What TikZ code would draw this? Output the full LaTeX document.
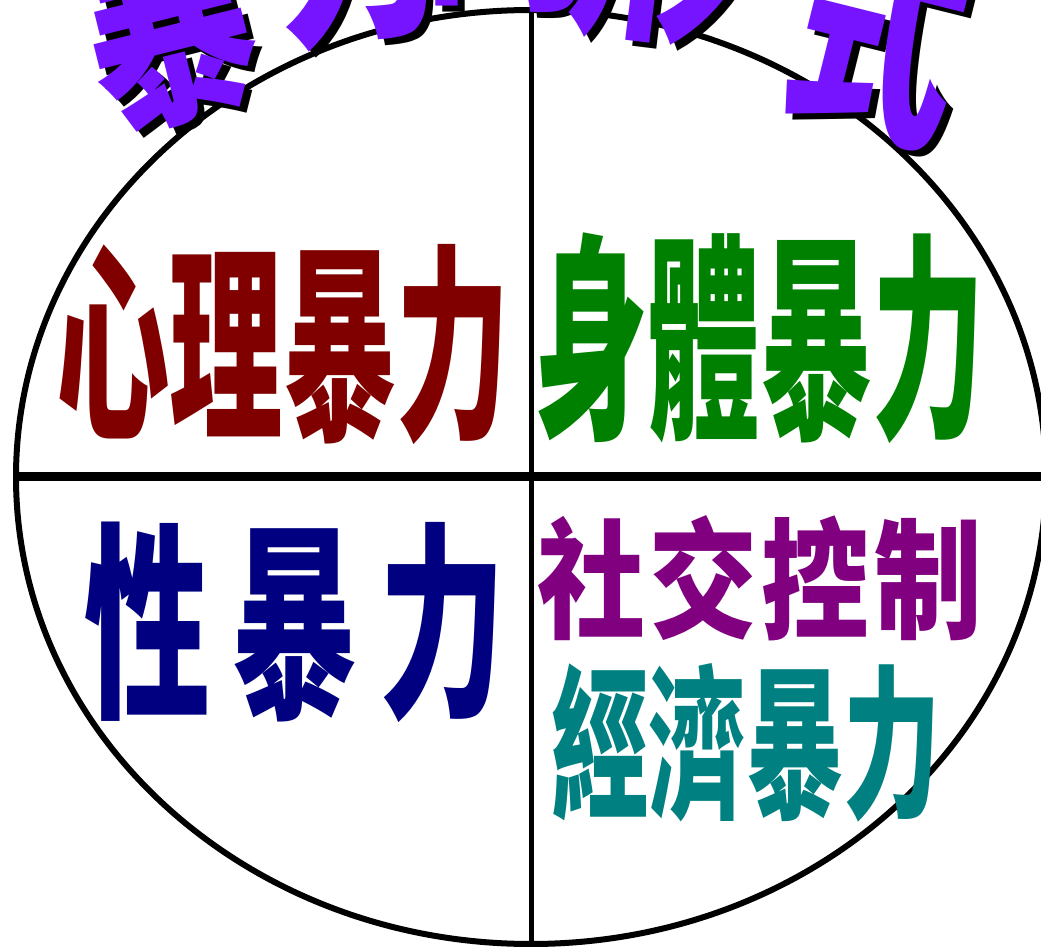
\documentclass[tikz,border=0pt]{standalone}
\usepackage{fontspec}
\usetikzlibrary{shapes.geometric}
\newfontfamily\cjk{Noto Sans CJK TC}
\definecolor{cmaroon}{RGB}{128,0,0}
\definecolor{cgreen}{RGB}{0,128,0}
\definecolor{cnavy}{RGB}{0,0,128}
\definecolor{cpurple}{RGB}{128,0,128}
\definecolor{cteal}{RGB}{0,128,128}
\definecolor{ctitle}{RGB}{118,20,255}
\tikzset{
  lab/.style={inner sep=0pt, outer sep=0pt, anchor=center},
  tchar/.style={inner sep=0pt, outer sep=0pt, anchor=center, text=ctitle},
  tshadow/.style={inner sep=0pt, outer sep=0pt, anchor=center, text=black},
  rim/.style={draw=black, line width=3pt, ellipse, inner sep=0pt, outer sep=0pt,
    minimum width=515pt, minimum height=467pt},
}
\newcommand\ttlchar[5]{%
  \node[tshadow, rotate=#3] (#5s) at ({#1+7},{#2+6}) {\scalebox{0.9}[1.2]{\cjk\bfseries\fontsize{95}{95}\selectfont #4}};
  \node[tchar, rotate=#3] (#5) at (#1,#2) {\scalebox{0.9}[1.2]{\cjk\bfseries\fontsize{95}{95}\selectfont #4}};
}
\begin{document}
\begin{tikzpicture}[x=0.5pt, y=-0.5pt]
\useasboundingbox (0,0) rectangle (1041,947);
\clip (0,0) rectangle (1041,947);
\fill[white] (0,0) rectangle (1041,947);
% ellipse and dividing lines
\node[rim] (e) at (531,477) {};
\draw[line width=2.5pt] (e.north) -- (e.south);
\draw[line width=4.5pt] (e.west) -- (e.east);
% title (cut off at top)
\ttlchar{166}{22}{14}{暴}{t1}
\ttlchar{355}{-63}{7}{力}{t2}
\ttlchar{510}{-95}{0}{的}{t3}
\ttlchar{663}{-62}{-7}{形}{t4}
\ttlchar{880}{32}{-14}{式}{t5}
% quadrant labels
\node[lab, text=cmaroon] (psy) at (283,345)
  {\scalebox{0.54}[1]{\cjk\bfseries\fontsize{105}{105}\selectfont 心理暴力}};
\node[lab, text=cgreen] (phy) at (760,338)
  {\scalebox{0.51}[1]{\cjk\bfseries\fontsize{110}{110}\selectfont 身體暴力}};
\node[lab, text=cnavy] (sex) at (295,622)
  {\scalebox{0.6}[1]{\cjk\bfseries\fontsize{105}{105}\selectfont 性\hspace{18pt}暴\hspace{18pt}力}};
\node[lab, text=cpurple] (soc) at (760,578)
  {\scalebox{0.83}[1]{\cjk\bfseries\fontsize{65}{65}\selectfont 社\hspace{2.5pt}交\hspace{2.5pt}控\hspace{2.5pt}制}};
\node[lab, text=cteal] (eco) at (746,743)
  {\scalebox{0.59}[1]{\cjk\bfseries\fontsize{82.5}{82.5}\selectfont 經濟暴力}};
\end{tikzpicture}
\end{document}
